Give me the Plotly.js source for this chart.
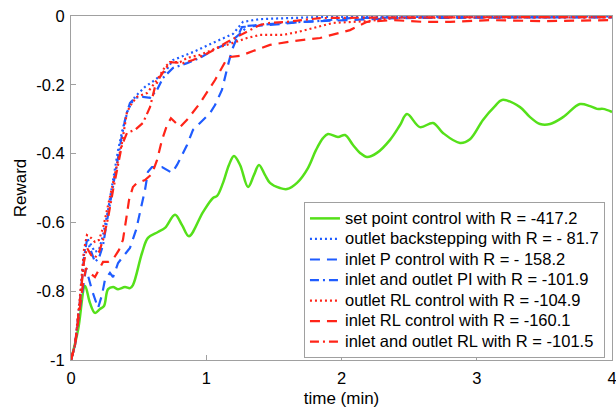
<!DOCTYPE html>
<html>
<head>
<meta charset="utf-8">
<script src="https://cdn.plot.ly/plotly-3.0.1.min.js"></script>
<style>html,body{margin:0;padding:0;background:#fff;}#chart{width:616px;height:413px;}</style>
</head>
<body>
<div id="chart"></div>
<script>
// ---- data (time in minutes, reward) ----
const seriesNames = [
  "set point control with R = -417.2",
  "outlet backstepping with R = - 81.7",
  "inlet P control with R = - 158.2",
  "inlet and outlet PI with R = -101.9",
  "outlet RL control with R = -104.9",
  "inlet RL control with R = -160.1",
  "inlet and outlet RL with R = -101.5"
];

const tSetPoint = [0,0.052,0.104,0.140,0.177,0.214,0.244,0.274,0.311,0.348,0.399,0.436,0.458,0.525,0.569,0.643,0.695,0.769,0.821,0.872,0.976,1.050,1.080,1.124,1.168,1.205,1.250,1.309,1.353,1.390,1.434,1.471,1.545,1.597,1.671,1.752,1.811,1.863,1.900,1.974,2.026,2.085,2.137,2.189,2.262,2.359,2.433,2.484,2.580,2.677,2.750,2.876,2.950,3.046,3.135,3.187,3.320,3.394,3.468,3.542,3.638,3.763,3.837,3.889,3.934,4.0];
const rSetPoint = [-1,-0.913,-0.785,-0.834,-0.863,-0.852,-0.843,-0.794,-0.788,-0.794,-0.788,-0.791,-0.782,-0.689,-0.645,-0.628,-0.616,-0.578,-0.608,-0.640,-0.570,-0.529,-0.523,-0.485,-0.433,-0.407,-0.433,-0.497,-0.462,-0.433,-0.462,-0.485,-0.500,-0.503,-0.485,-0.442,-0.390,-0.355,-0.343,-0.352,-0.346,-0.375,-0.398,-0.410,-0.398,-0.360,-0.317,-0.285,-0.323,-0.311,-0.340,-0.369,-0.358,-0.302,-0.262,-0.244,-0.265,-0.294,-0.314,-0.314,-0.294,-0.256,-0.262,-0.270,-0.270,-0.279];

const tBackstep = [0,0.030,0.067,0.096,0.118,0.148,0.177,0.207,0.237,0.274,0.311,0.348,0.384,0.421,0.473,0.547,0.621,0.695,0.754,0.902,1.050,1.198,1.272,1.397,1.841,4.0];
const rBackstep = [-1,-0.956,-0.826,-0.695,-0.645,-0.666,-0.686,-0.680,-0.637,-0.564,-0.477,-0.390,-0.326,-0.273,-0.235,-0.206,-0.186,-0.163,-0.128,-0.105,-0.078,-0.052,-0.017,-0.009,-0.003,-0.001];

const tInletP = [0,0.030,0.059,0.089,0.111,0.155,0.200,0.229,0.251,0.288,0.311,0.348,0.399,0.436,0.481,0.510,0.547,0.569,0.599,0.673,0.747,0.784,0.821,0.858,0.902,0.954,1.028,1.065,1.116,1.161,1.190,1.220,1.264,1.471,1.715,2.433,4.0];
const rInletP = [-1,-0.956,-0.869,-0.782,-0.733,-0.797,-0.849,-0.811,-0.767,-0.747,-0.759,-0.718,-0.692,-0.674,-0.622,-0.573,-0.506,-0.453,-0.439,-0.439,-0.456,-0.433,-0.404,-0.375,-0.331,-0.311,-0.282,-0.259,-0.215,-0.142,-0.099,-0.070,-0.032,-0.026,-0.017,-0.006,-0.003];

const tPI = [0,0.030,0.067,0.096,0.118,0.148,0.177,0.207,0.237,0.274,0.311,0.348,0.377,0.407,0.436,0.473,0.532,0.584,0.636,0.680,0.754,0.858,0.954,1.050,1.176,1.272,1.301,1.397,1.567,1.819,2.063,2.433,4.0];
const rPI = [-1,-0.956,-0.826,-0.703,-0.651,-0.686,-0.715,-0.703,-0.666,-0.578,-0.491,-0.404,-0.346,-0.288,-0.253,-0.238,-0.235,-0.238,-0.215,-0.180,-0.151,-0.137,-0.122,-0.099,-0.076,-0.044,-0.029,-0.026,-0.020,-0.015,-0.006,-0.004,-0.004];

const tOutletRL = [0,0.030,0.067,0.096,0.118,0.148,0.177,0.207,0.237,0.274,0.311,0.348,0.377,0.414,0.451,0.488,0.562,0.636,0.695,0.732,0.806,0.858,0.954,1.080,1.198,1.301,1.397,1.567,1.671,1.789,1.937,2.189,2.381,2.802,4.0];
const rOutletRL = [-1,-0.956,-0.811,-0.680,-0.637,-0.645,-0.657,-0.651,-0.616,-0.549,-0.477,-0.419,-0.369,-0.279,-0.253,-0.235,-0.224,-0.186,-0.148,-0.134,-0.134,-0.122,-0.113,-0.093,-0.078,-0.064,-0.055,-0.055,-0.047,-0.035,-0.020,-0.015,-0.006,-0.004,-0.004];

const tInletRL = [0,0.030,0.059,0.089,0.111,0.140,0.177,0.207,0.237,0.274,0.318,0.355,0.384,0.407,0.429,0.458,0.488,0.547,0.599,0.636,0.673,0.710,0.739,0.776,0.806,0.858,0.954,1.065,1.139,1.176,1.250,1.346,1.471,1.641,1.841,2.063,2.189,2.381,2.603,2.802,3.098,3.490,4.0];
const rInletRL = [-1,-0.956,-0.869,-0.776,-0.733,-0.747,-0.759,-0.738,-0.715,-0.715,-0.703,-0.680,-0.651,-0.593,-0.535,-0.497,-0.485,-0.477,-0.459,-0.419,-0.360,-0.317,-0.297,-0.311,-0.323,-0.302,-0.253,-0.186,-0.134,-0.119,-0.116,-0.102,-0.084,-0.073,-0.064,-0.041,-0.017,-0.012,-0.017,-0.017,-0.012,-0.015,-0.012];

const tBothRL = [0,0.030,0.067,0.096,0.118,0.148,0.177,0.207,0.237,0.274,0.311,0.348,0.377,0.414,0.473,0.532,0.584,0.621,0.658,0.732,0.828,0.902,1.028,1.153,1.301,1.397,1.471,1.597,1.841,2.433,4.0];
const rBothRL = [-1,-0.956,-0.826,-0.715,-0.674,-0.695,-0.703,-0.686,-0.651,-0.587,-0.506,-0.433,-0.375,-0.340,-0.331,-0.311,-0.265,-0.206,-0.177,-0.134,-0.137,-0.128,-0.105,-0.076,-0.047,-0.026,-0.020,-0.017,-0.006,-0.004,-0.003];

const xTickVals = [0,1,2,3,4];
const xTickText = ["0","1","2","3","4"];
const yTickVals = [-1,-0.8,-0.6,-0.4,-0.2,0];
const yTickText = ["-1","-0.8","-0.6","-0.4","-0.2","0"];

// ---- styles ----
const GREEN = "#55e01a", BLUE = "#1f5cff", RED = "#ff2418";
const DOT = "2px,3px", DASH = "10px,7px", DASHDOT = "9px,4px,2px,4px";
const FONT = "Liberation Sans, Arial, sans-serif";

const xs = [tSetPoint,tBackstep,tInletP,tPI,tOutletRL,tInletRL,tBothRL];
const ys = [rSetPoint,rBackstep,rInletP,rPI,rOutletRL,rInletRL,rBothRL];
const colors = [GREEN,BLUE,BLUE,BLUE,RED,RED,RED];
const dashes = ["solid",DOT,DASH,DASHDOT,DOT,DASH,DASHDOT];
const widths = [2.5,2.2,2.2,2.2,2.2,2.2,2.2];

const traces = seriesNames.map((n,i)=>({
  type:"scatter", mode:"lines",
  name:'<span style="font-size:16.5px">' + n + '</span>',
  x:xs[i], y:ys[i],
  line:{color:colors[i], dash:dashes[i], width:widths[i], shape: i===0 ? "spline" : "linear", smoothing: i===0 ? 1 : 0}
}));

const axisCommon = {
  showline:true, mirror:true, linecolor:"#a0a0a0", linewidth:1,
  ticks:"inside", ticklen:5, tickcolor:"#a0a0a0", showgrid:false, zeroline:false,
  tickfont:{family:FONT, size:16.5, color:"#000"}
};

const layout = {
  width:616, height:413,
  margin:{l:71, r:4, t:16, b:53},
  paper_bgcolor:"#fff", plot_bgcolor:"#fff",
  font:{family:FONT, color:"#000"},
  xaxis:Object.assign({}, axisCommon, {
    range:[0,4], tickmode:"array", tickvals:xTickVals, ticktext:xTickText,
    ticklabelstandoff:3, ticklabeloverflow:"allow",
    title:{text:"time (min)", font:{size:17}, standoff:6}
  }),
  yaxis:Object.assign({}, axisCommon, {
    range:[-1,0], tickmode:"array", tickvals:yTickVals, ticktext:yTickText,
    ticklabelstandoff:2, automargin:true,
    title:{text:"Reward", font:{size:17}, standoff:5}
  }),
  showlegend:true,
  legend:{
    x:0.987, y:0.459, xanchor:"right", yanchor:"top",
    bgcolor:"#fff", bordercolor:"#a0a0a0", borderwidth:1,
    font:{family:FONT, size:13.5, color:"#000"},
    tracegroupgap:0, itemwidth:30
  }
};

Plotly.newPlot("chart", traces, layout, {staticPlot:true, displayModeBar:false});
</script>
</body>
</html>
